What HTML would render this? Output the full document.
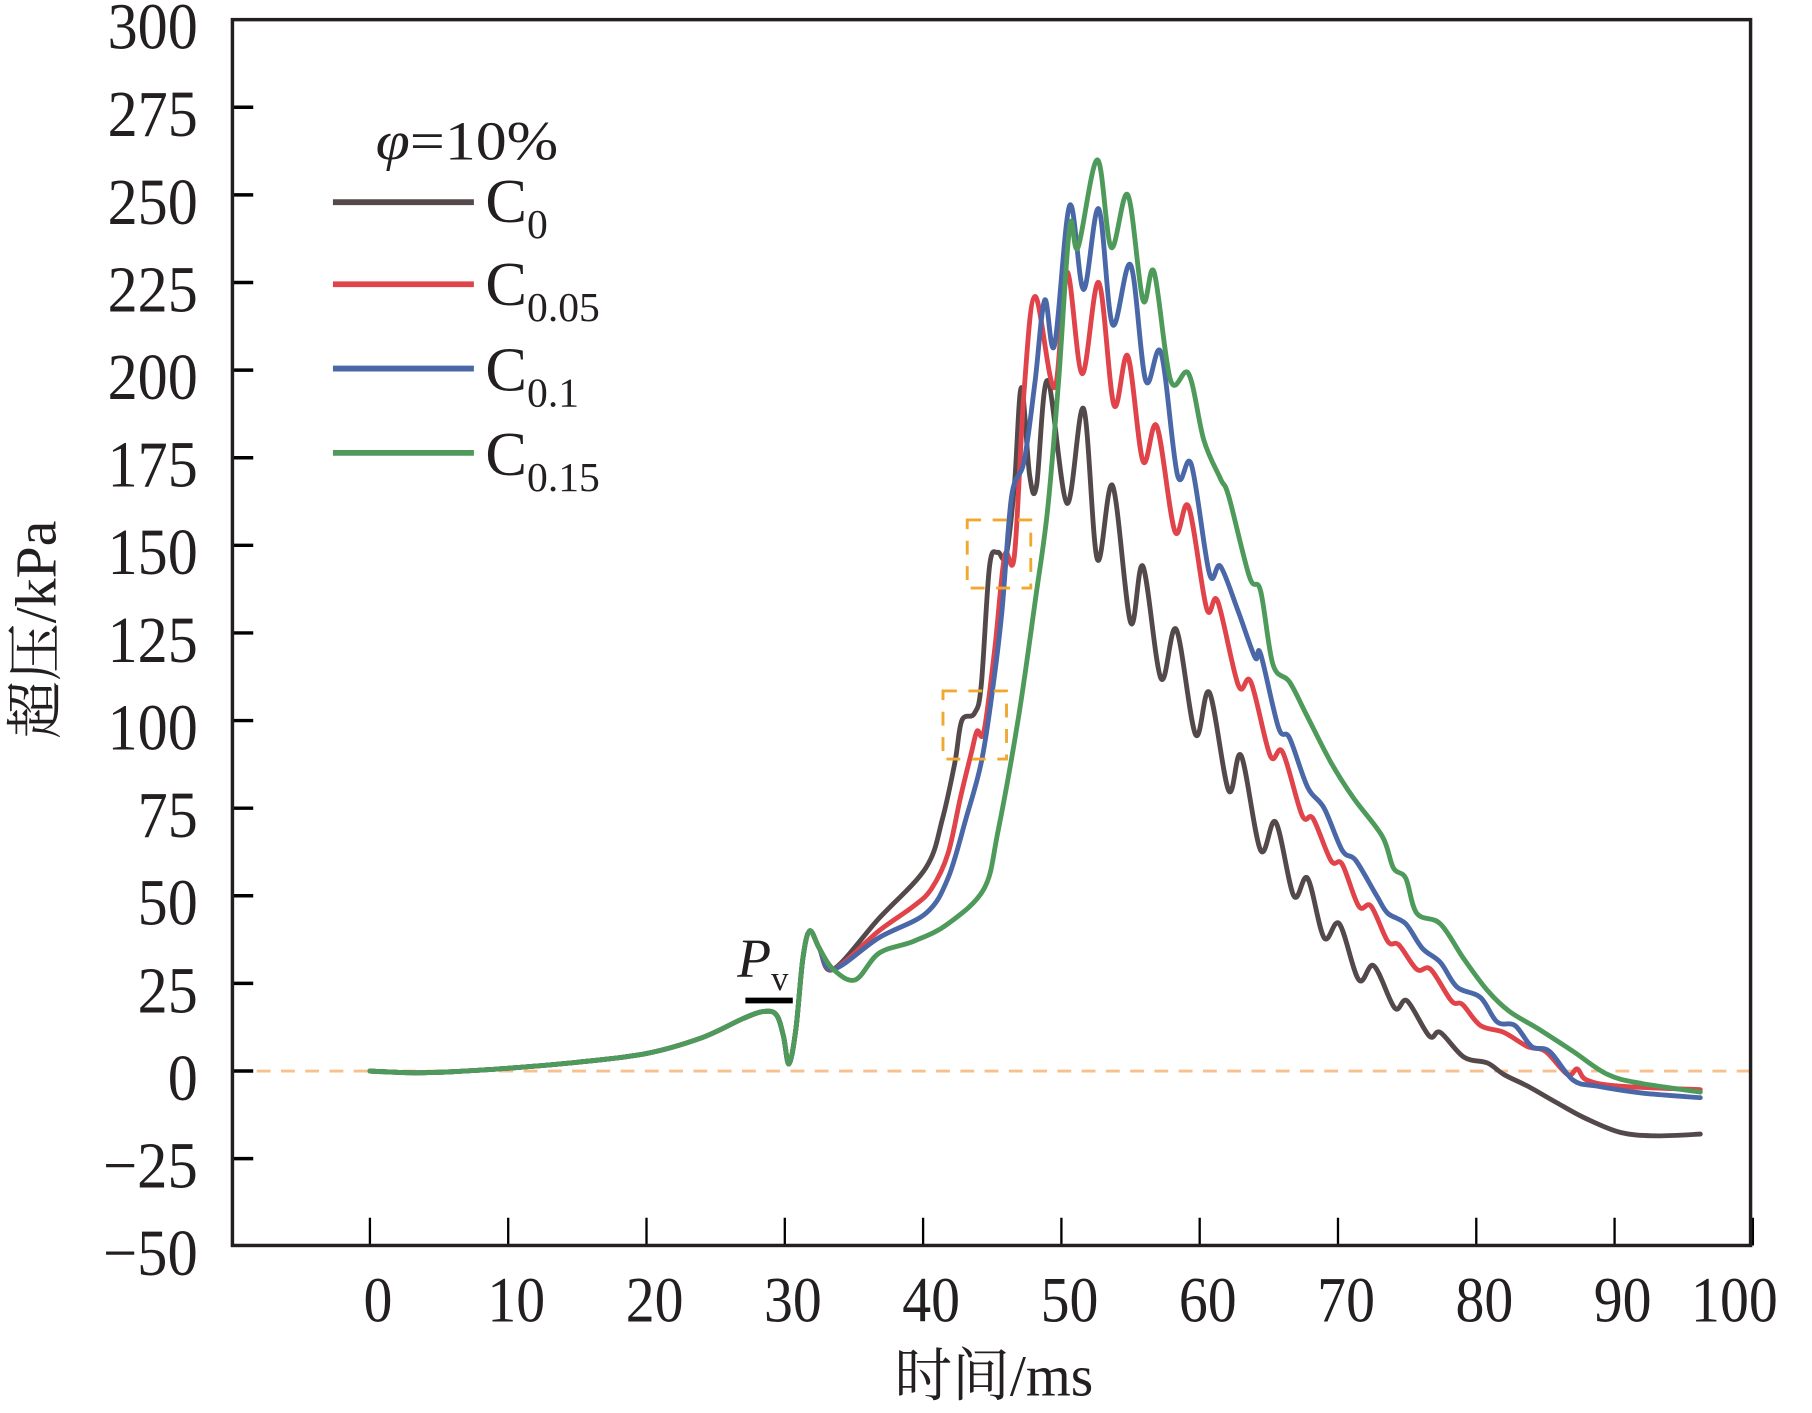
<!DOCTYPE html>
<html><head><meta charset="utf-8"><style>
html,body{margin:0;padding:0;background:#fff}
svg{display:block}
text{font-family:"Liberation Serif","Noto Serif CJK SC",serif;fill:#231f20}
</style></head><body>
<svg id="chart" width="1812" height="1413" viewBox="0 0 1568 1223" xmlns="http://www.w3.org/2000/svg">
<g id="axes"></g>
<g id="series"></g>
<g>
<text x="325" y="138" font-size="48" textLength="158" lengthAdjust="spacingAndGlyphs"><tspan font-style="italic">φ</tspan>=10%</text>
<line x1="288" y1="175" x2="410" y2="175" stroke="#54494a" stroke-width="5"/>
<text x="420" y="192" font-size="54">C<tspan font-size="36" dy="14">0</tspan></text>
<line x1="288" y1="246" x2="410" y2="246" stroke="#e0434a" stroke-width="5"/>
<text x="420" y="264" font-size="54">C<tspan font-size="36" dy="14">0.05</tspan></text>
<line x1="288" y1="319" x2="410" y2="319" stroke="#4a67a8" stroke-width="5"/>
<text x="420" y="338" font-size="54">C<tspan font-size="36" dy="14">0.1</tspan></text>
<line x1="288" y1="392" x2="410" y2="392" stroke="#4e9a5a" stroke-width="5"/>
<text x="420" y="411" font-size="54">C<tspan font-size="36" dy="14">0.15</tspan></text>
</g>
<g>
<text x="638" y="845" font-size="48" font-style="italic">P<tspan font-style="normal" font-size="30" dy="12">v</tspan></text>
<line x1="645" y1="866" x2="686" y2="866" stroke="#000" stroke-width="5"/>
</g>
<rect x="816" y="598" width="55" height="59" fill="none" stroke="#f0a830" stroke-width="2.5" stroke-dasharray="12,10"/>
<rect x="837" y="450" width="55" height="59" fill="none" stroke="#f0a830" stroke-width="2.5" stroke-dasharray="12,10"/>
<text transform="translate(48,545) rotate(-90)" text-anchor="middle" font-size="50">超压/kPa</text>
<text x="860" y="1208" text-anchor="middle" font-size="50">时间/ms</text>
</svg>
<script>
const xTicks=[0,10,20,30,40,50,60,70,80,90,100];
const yTicks=[-50,-25,0,25,50,75,100,125,150,175,200,225,250,275,300];
const commonT=[0,3,6,10,15,20,24,27,28.5,29.4,29.9,30.3,30.8,31.3,31.8,32.5,33.5];
const commonV=[0,-0.5,-0.2,0.8,2.5,5,9.5,15,17,16,10,2,12,32,40,35,29];
const c0T=[36.8,40.2,41.4,42.3,42.8,43.7,44.2,44.8,45.4,46,46.6,47.1,47.7,48.2,49,50.4,51.6,52.6,53.7,55,55.9,57.2,58.3,59.7,60.7,62.1,63,64.4,65.5,66.8,67.8,69,70.1,71.5,72.6,74.1,75,76.6,77.4,79.1,80.8,82,83.7,85.8,87.9,90.4,92.9,96.2];
const c0V=[43.5,58,72,88,100,102,110,144,148,147,167,195,170,167,197,162,189,146,167,128,144,112,126,96,108,80,90,63,71,50,55,38,42,26,30,18,20,10,11,4,2.3,-1,-4.3,-9,-13.5,-17.5,-18.5,-18];
const c005T=[36.8,39.3,40.6,41.8,42.7,43.5,43.9,44.4,45.2,45.9,46.6,47.3,48.1,49.5,50.4,51.5,52.7,53.8,54.8,55.9,56.9,58.2,59.2,60.5,61.3,62.8,63.7,65.1,66,67.4,68.2,69.5,70.3,71.5,72.4,73.6,74.4,75.7,76.7,78.2,79,80.3,82,83.7,85,86.6,87.3,88,90.3,96.2];
const c005V=[40,47,52,62,78,91,97,97,121,147,147,194,221,195,228,199,225,190,204,174,184,154,161,132,134,110,111,90,91,73,72,60,59,47,47,37,36,29,29,20,19,13,11,7,5.6,-1,0.6,-2.6,-4.3,-5.3];
const c01T=[36.8,40.2,41.8,43.1,44.2,45,45.7,46.4,47.3,48.1,48.8,49.5,50.6,51.6,52.7,53.7,55,56.1,57.2,58.4,59.4,60.7,61.5,62.8,64,64.4,65.7,66.5,67.8,69,70.3,71.3,72.8,73.6,74.9,76.1,77.4,78.6,80.3,81.5,82.8,84,85.3,87,88.7,92,96.2];
const c01V=[38,45,55,72,88,108,131,164,174,197,220,207,247,223,246,213,230,197,205,170,173,142,144,131,118,119,98,95,81,75,63,60,50,45,42,35,31,24,21,14,13,7,5.6,-2.6,-4.3,-6.3,-7.6];
const c015T=[35.1,36.8,39.3,41.8,44.4,45.4,46.9,48.1,49,49.8,50.6,51.2,52.6,53.6,54.8,55.9,56.7,57.9,59.2,60.3,61.5,62.1,63.6,64.4,65.3,66.5,67.8,69.5,71.1,73.2,74,74.9,75.7,77.4,79.1,80.8,82.4,84.5,87,89.5,92,96.2];
const c015V=[26,33.6,37,42,52,68,101,134,160,197,241,235,260,235,250,220,228,197,199,180,169,164,141,137,116,111,101,88,78,67,58,55,45,42,32,23,17,12,5.6,-1,-3.6,-6];
const NS='http://www.w3.org/2000/svg';
const L=201,R=1515,T=17,B=1078;
function xs(t){return 320+(1517-320)*t/100;}
function ys(v){return 927-(927-17)*v/300;}
function mk(tag,attrs,parent){const e=document.createElementNS(NS,tag);for(const k in attrs)e.setAttribute(k,attrs[k]);parent.appendChild(e);return e;}
const axes=document.getElementById('axes');
const zl=mk('line',{x1:L,y1:ys(0),x2:R,y2:ys(0),stroke:'#f7c08e','stroke-width':2.5,'stroke-dasharray':'12,9'},axes);


xTicks.forEach(t=>{
  const tk=mk('line',{x1:xs(t),y1:B,x2:xs(t),y2:B-24,stroke:'#000','stroke-width':2},axes);
  
  
  const s=String(t);
  const lb=mk('text',{x:xs(t)+(t===100?-16:7),y:1144,'text-anchor':'middle','font-size':56,textLength:s.length*25,lengthAdjust:'spacingAndGlyphs'},axes);
  lb.textContent=s;
  
  
});
yTicks.forEach(v=>{
  if(v!==-50&&v!==300){
    const tk=mk('line',{x1:L,y1:ys(v),x2:L+18,y2:ys(v),stroke:'#000','stroke-width':3},axes);
    
    
  }
  const s=v<0?'\u2212'+Math.abs(v):String(v);
  const n=String(Math.abs(v)).length;
  const lb=mk('text',{x:171,y:ys(v)+25,'text-anchor':'end','font-size':57,textLength:n*26+(v<0?30:0),lengthAdjust:'spacingAndGlyphs'},axes);
  lb.textContent=s;
  
  
});
const box=mk('rect',{x:L,y:T,width:R-L,height:B-T,fill:'none',stroke:'#231f20','stroke-width':3},axes);


function pathFrom(ts,vs){
  const p=ts.map((t,i)=>[xs(t),ys(vs[i])]);
  let d='M'+p[0][0].toFixed(1)+','+p[0][1].toFixed(1);
  for(let i=0;i<p.length-1;i++){
    const p0=p[Math.max(0,i-1)],p1=p[i],p2=p[i+1],p3=p[Math.min(p.length-1,i+2)];
    const c1=[p1[0]+(p2[0]-p0[0])/6,p1[1]+(p2[1]-p0[1])/6];
    const c2=[p2[0]-(p3[0]-p1[0])/6,p2[1]-(p3[1]-p1[1])/6];
    d+=' C'+c1[0].toFixed(1)+','+c1[1].toFixed(1)+' '+c2[0].toFixed(1)+','+c2[1].toFixed(1)+' '+p2[0].toFixed(1)+','+p2[1].toFixed(1);
  }
  return d;
}
const sg=document.getElementById('series');
const defs=[['c0',c0T,c0V,'#54494a'],['c005',c005T,c005V,'#e0434a'],['c01',c01T,c01V,'#4a67a8'],['c015',c015T,c015V,'#4e9a5a']];
defs.forEach(([n,t,v,c])=>{
  const pth=mk('path',{d:pathFrom(commonT.concat(t),commonV.concat(v)),fill:'none',stroke:c,'stroke-width':4.2,'stroke-linejoin':'round','stroke-linecap':'round'},sg);
  
  
});
</script>
</body></html>
